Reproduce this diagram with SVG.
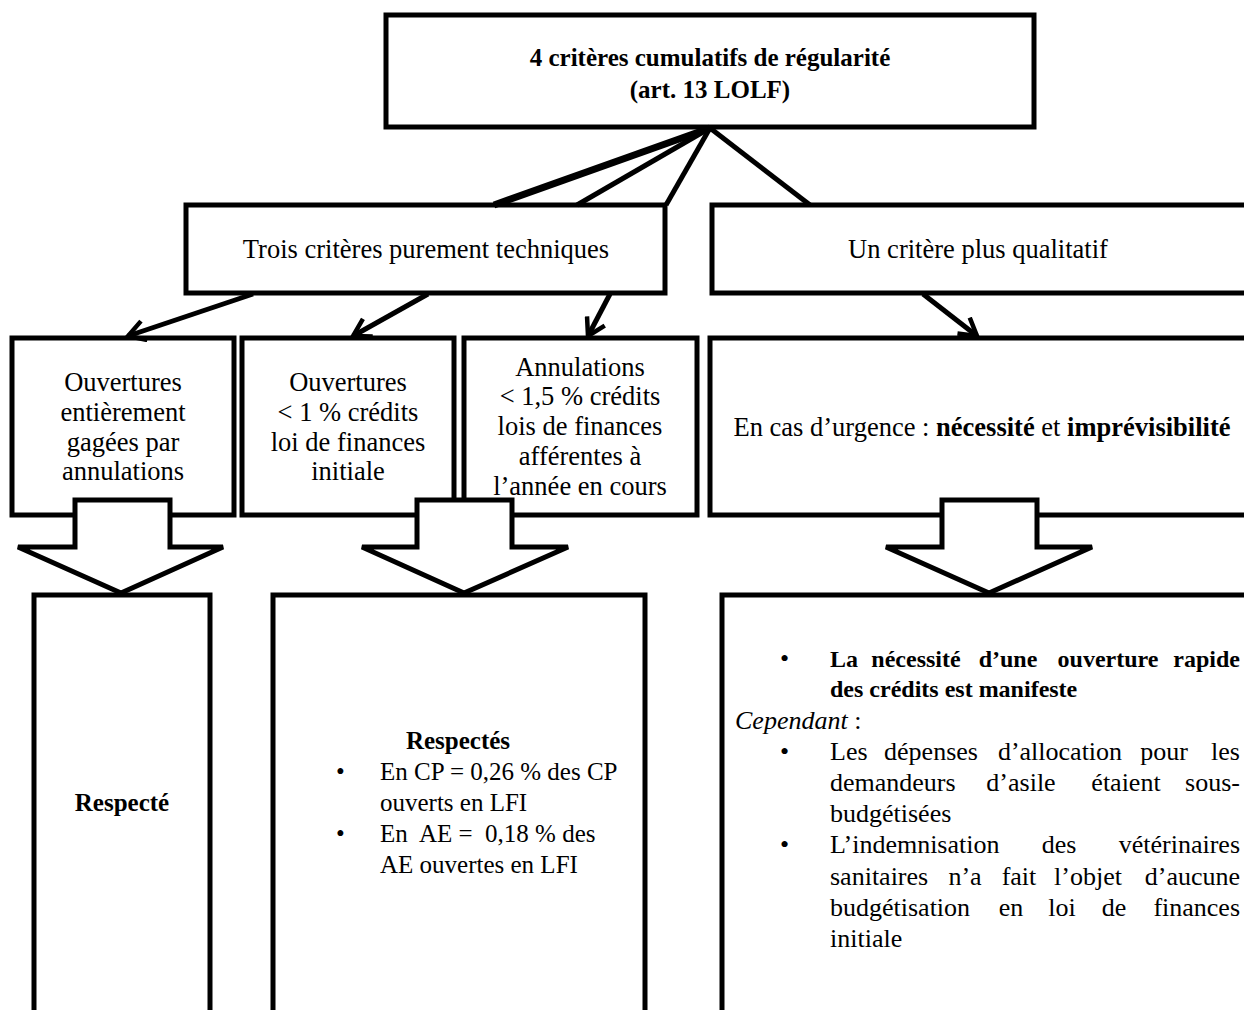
<svg xmlns="http://www.w3.org/2000/svg" width="1244" height="1010" viewBox="0 0 1244 1010">
<style>
.box{fill:#fff;stroke:#000;stroke-width:5}
.t{font-family:"Liberation Serif","Times New Roman",serif;font-size:26.5px;fill:#000}
.s{font-size:25px}
.r{font-size:26px}
.rb{font-size:24px;font-weight:bold}
.c{text-anchor:middle}
.e{text-anchor:end}
.b{font-weight:bold}
.i{font-style:italic}
.ln{stroke:#000;stroke-width:5;fill:none}
.blk{fill:#fff;stroke:#000;stroke-width:5;stroke-linejoin:miter}
</style>
<defs>
<marker id="ah" viewBox="0 0 24 24" refX="20" refY="12" markerWidth="24" markerHeight="24" markerUnits="userSpaceOnUse" orient="auto">
<path d="M3,2 L20,12 L3,22" fill="none" stroke="#000" stroke-width="4.5"/>
</marker>
</defs>
<rect width="1244" height="1010" fill="#fff"/>

<g id="n-top">
<rect class="box" x="386" y="15" width="648" height="112"/>
<text class="t s b c" x="710" y="66">4 critères cumulatifs de régularité</text>
<text class="t s b c" x="710" y="98">(art. 13 LOLF)</text>
</g>

<g id="n-techniques">
<rect class="box" x="186" y="205" width="479" height="88"/>
<text class="t c" x="426" y="258">Trois critères purement techniques</text>
</g>

<g id="n-qualitatif">
<rect class="box" x="712" y="205" width="540" height="88"/>
<text class="t c" x="978" y="258">Un critère plus qualitatif</text>
</g>

<g id="n-gagees">
<rect class="box" x="12" y="338" width="222" height="177"/>
<text class="t c" x="123" y="391">Ouvertures</text>
<text class="t c" x="123" y="421">entièrement</text>
<text class="t c" x="123" y="451">gagées par</text>
<text class="t c" x="123" y="480">annulations</text>
</g>

<g id="n-ouvertures">
<rect class="box" x="242" y="338" width="212" height="177"/>
<text class="t c" x="348" y="391">Ouvertures</text>
<text class="t c" x="348" y="421">&lt; 1 % crédits</text>
<text class="t c" x="348" y="451">loi de finances</text>
<text class="t c" x="348" y="480">initiale</text>
</g>

<g id="n-annulations">
<rect class="box" x="464" y="338" width="233" height="177"/>
<text class="t c" x="580" y="376">Annulations</text>
<text class="t c" x="580" y="405">&lt; 1,5 % crédits</text>
<text class="t c" x="580" y="435">lois de finances</text>
<text class="t c" x="580" y="465">afférentes à</text>
<text class="t c" x="580" y="495">l’année en cours</text>
</g>

<g id="n-urgence">
<rect class="box" x="710" y="338" width="542" height="177"/>
<text class="t c" x="982" y="436">En cas d’urgence : <tspan class="b">nécessité</tspan> et <tspan class="b">imprévisibilité</tspan></text>
</g>

<g id="n-respecte">
<rect class="box" x="34" y="595" width="176" height="430"/>
<text class="t s b c" x="122" y="811">Respecté</text>
</g>

<g id="n-respectes">
<rect class="box" x="273" y="595" width="372" height="430"/>
<text class="t s b c" x="458" y="749">Respectés</text>
<text class="t s" x="336" y="780">•</text>
<text class="t s" x="380" y="780">En CP = 0,26 % des CP</text>
<text class="t s" x="380" y="811">ouverts en LFI</text>
<text class="t s" x="336" y="842">•</text>
<text class="t s" x="380" y="842" xml:space="preserve">En  AE =  0,18 % des</text>
<text class="t s" x="380" y="873">AE ouvertes en LFI</text>
</g>

<g id="n-analyse">
<rect class="box" x="722" y="595" width="540" height="430"/>
<text class="t r" x="780" y="667">•</text>
<text class="t rb" x="830" y="667">La</text>
<text class="t rb c" x="916" y="667">nécessité</text>
<text class="t rb c" x="1008" y="667">d’une</text>
<text class="t rb c" x="1108" y="667">ouverture</text>
<text class="t rb e" x="1240" y="667">rapide</text>
<text class="t rb" x="830" y="697">des crédits est manifeste</text>
<text class="t r" x="735" y="729"><tspan class="i">Cependant</tspan> :</text>
<text class="t r" x="780" y="760">•</text>
<text class="t r" x="830" y="760">Les</text>
<text class="t r c" x="931" y="760">dépenses</text>
<text class="t r c" x="1060" y="760">d’allocation</text>
<text class="t r c" x="1164" y="760">pour</text>
<text class="t r e" x="1240" y="760">les</text>
<text class="t r" x="830" y="791">demandeurs</text>
<text class="t r c" x="1021" y="791">d’asile</text>
<text class="t r c" x="1126" y="791">étaient</text>
<text class="t r e" x="1240" y="791">sous-</text>
<text class="t r" x="830" y="822">budgétisées</text>
<text class="t r" x="780" y="853">•</text>
<text class="t r" x="830" y="853">L’indemnisation</text>
<text class="t r c" x="1059" y="853">des</text>
<text class="t r e" x="1240" y="853">vétérinaires</text>
<text class="t r" x="830" y="885">sanitaires</text>
<text class="t r c" x="965" y="885">n’a</text>
<text class="t r c" x="1019" y="885">fait</text>
<text class="t r c" x="1088" y="885">l’objet</text>
<text class="t r e" x="1240" y="885">d’aucune</text>
<text class="t r" x="830" y="916">budgétisation</text>
<text class="t r c" x="1011" y="916">en</text>
<text class="t r c" x="1062" y="916">loi</text>
<text class="t r c" x="1114" y="916">de</text>
<text class="t r e" x="1240" y="916">finances</text>
<text class="t r" x="830" y="947">initiale</text>
</g>

<g id="connectors">
<line class="ln" x1="710" y1="128" x2="494" y2="205" style="stroke-width:7"/>
<line class="ln" x1="710" y1="128" x2="577" y2="205"/>
<line class="ln" x1="710" y1="128" x2="666" y2="205"/>
<line class="ln" x1="710" y1="128" x2="810" y2="205"/>
<line class="ln" x1="253" y1="294" x2="128" y2="336" marker-end="url(#ah)"/>
<line class="ln" x1="428" y1="294" x2="353" y2="336" marker-end="url(#ah)"/>
<line class="ln" x1="610" y1="294" x2="588" y2="336" marker-end="url(#ah)"/>
<line class="ln" x1="923" y1="294" x2="977" y2="336" marker-end="url(#ah)"/>
<polygon class="blk" points="75,500 170,500 170,547 223,547 121,593 18,547 75,547"/>
<polygon class="blk" points="417,500 512,500 512,547 568,547 464,593 362,547 417,547"/>
<polygon class="blk" points="942,500 1037,500 1037,547 1092,547 989,593 886,547 942,547"/>
</g>
</svg>
